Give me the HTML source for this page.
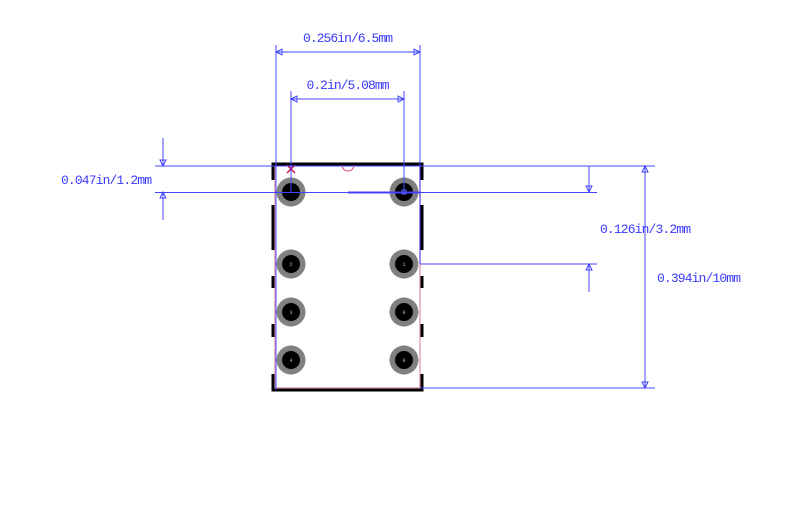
<!DOCTYPE html>
<html><head><meta charset="utf-8"><style>
html,body{margin:0;padding:0;background:#fff;}
svg{display:block;}
text{font-family:"Liberation Mono",monospace;font-size:13px;fill:#3a3aff;}
</style></head><body>
<svg width="800" height="529" viewBox="0 0 800 529" xmlns="http://www.w3.org/2000/svg">
<rect x="275" y="165" width="145" height="223" fill="none" stroke="#e8a0b0" stroke-width="1.5"/>
<g stroke="#000" stroke-width="3" fill="none">
<path d="M273 180 V164 H422 V180"/>
<path d="M273 374 V390 H422 V374"/>
<line x1="273" y1="205" x2="273" y2="250"/>
<line x1="273" y1="276" x2="273" y2="288"/>
<line x1="273" y1="324" x2="273" y2="337"/>
<line x1="422" y1="205" x2="422" y2="250"/>
<line x1="422" y1="276" x2="422" y2="288"/>
<line x1="422" y1="324" x2="422" y2="337"/>
</g>
<g>
<circle cx="291" cy="192" r="14.5" fill="#808080"/><circle cx="291" cy="192" r="9" fill="#000"/>
<circle cx="404" cy="192" r="14.5" fill="#808080"/><circle cx="404" cy="192" r="9" fill="#000"/>
<circle cx="291" cy="264" r="14.5" fill="#808080"/><circle cx="291" cy="264" r="9" fill="#000"/>
<circle cx="404" cy="264" r="14.5" fill="#808080"/><circle cx="404" cy="264" r="9" fill="#000"/>
<circle cx="291" cy="312" r="14.5" fill="#808080"/><circle cx="291" cy="312" r="9" fill="#000"/>
<circle cx="404" cy="312" r="14.5" fill="#808080"/><circle cx="404" cy="312" r="9" fill="#000"/>
<circle cx="291" cy="360" r="14.5" fill="#808080"/><circle cx="291" cy="360" r="9" fill="#000"/>
<circle cx="404" cy="360" r="14.5" fill="#808080"/><circle cx="404" cy="360" r="9" fill="#000"/>
</g>
<g text-anchor="middle">
<text x="291" y="266" style="font-size:5px;fill:#bbb">2</text>
<text x="404" y="266" style="font-size:5px;fill:#bbb">1</text>
<text x="291" y="314" style="font-size:5px;fill:#bbb">3</text>
<text x="404" y="314" style="font-size:5px;fill:#bbb">9</text>
<text x="291" y="362" style="font-size:5px;fill:#bbb">4</text>
<text x="404" y="362" style="font-size:5px;fill:#bbb">9</text>
</g>
<rect x="402" y="190" width="4" height="4" fill="none" stroke="#6666ff" stroke-width="1"/>
<g stroke="#d0104a" stroke-width="1.5">
<line x1="287" y1="165" x2="295" y2="173"/><line x1="295" y1="165" x2="287" y2="173"/>
</g>
<path d="M342 165 A6 6 0 0 0 354 165" fill="none" stroke="#e05070" stroke-width="1"/>
<g stroke="#4444ff" stroke-width="1" fill="none">
<line x1="155" y1="166" x2="655" y2="166"/>
<line x1="155" y1="192.5" x2="597" y2="192.5"/>
<line x1="348" y1="192.5" x2="420" y2="192.5" stroke-width="2"/>
<line x1="420" y1="264" x2="597" y2="264"/>
<line x1="420" y1="388" x2="655" y2="388"/>
<line x1="276" y1="45" x2="276" y2="390"/>
<line x1="420" y1="45" x2="420" y2="264"/>
<line x1="291" y1="91" x2="291" y2="192"/>
<line x1="404" y1="91" x2="404" y2="192"/>
<line x1="276" y1="52" x2="420" y2="52"/>
<line x1="291" y1="99" x2="404" y2="99"/>
<line x1="163" y1="138" x2="163" y2="166"/>
<line x1="163" y1="192" x2="163" y2="220"/>
<line x1="589" y1="166" x2="589" y2="192"/>
<line x1="589" y1="264" x2="589" y2="292"/>
<line x1="645" y1="166" x2="645" y2="388"/>
<path d="M276 52 l6 -3 v6 z M420 52 l-6 -3 v6 z"/>
<path d="M291 99 l6 -3 v6 z M404 99 l-6 -3 v6 z"/>
<path d="M163 166 l-3 -6 h6 z M163 192 l-3 6 h6 z"/>
<path d="M589 192 l-3 -6 h6 z M589 264 l-3 6 h6 z"/>
<path d="M645 166 l-3 6 h6 z M645 388 l-3 -6 h6 z"/>
</g>
<text x="348" y="42" text-anchor="middle" textLength="90">0.256in/6.5mm</text>
<text x="348" y="89" text-anchor="middle" textLength="83">0.2in/5.08mm</text>
<text x="61" y="184" textLength="91">0.047in/1.2mm</text>
<text x="600" y="233" textLength="91">0.126in/3.2mm</text>
<text x="657" y="282" textLength="84">0.394in/10mm</text>
</svg>
</body></html>
